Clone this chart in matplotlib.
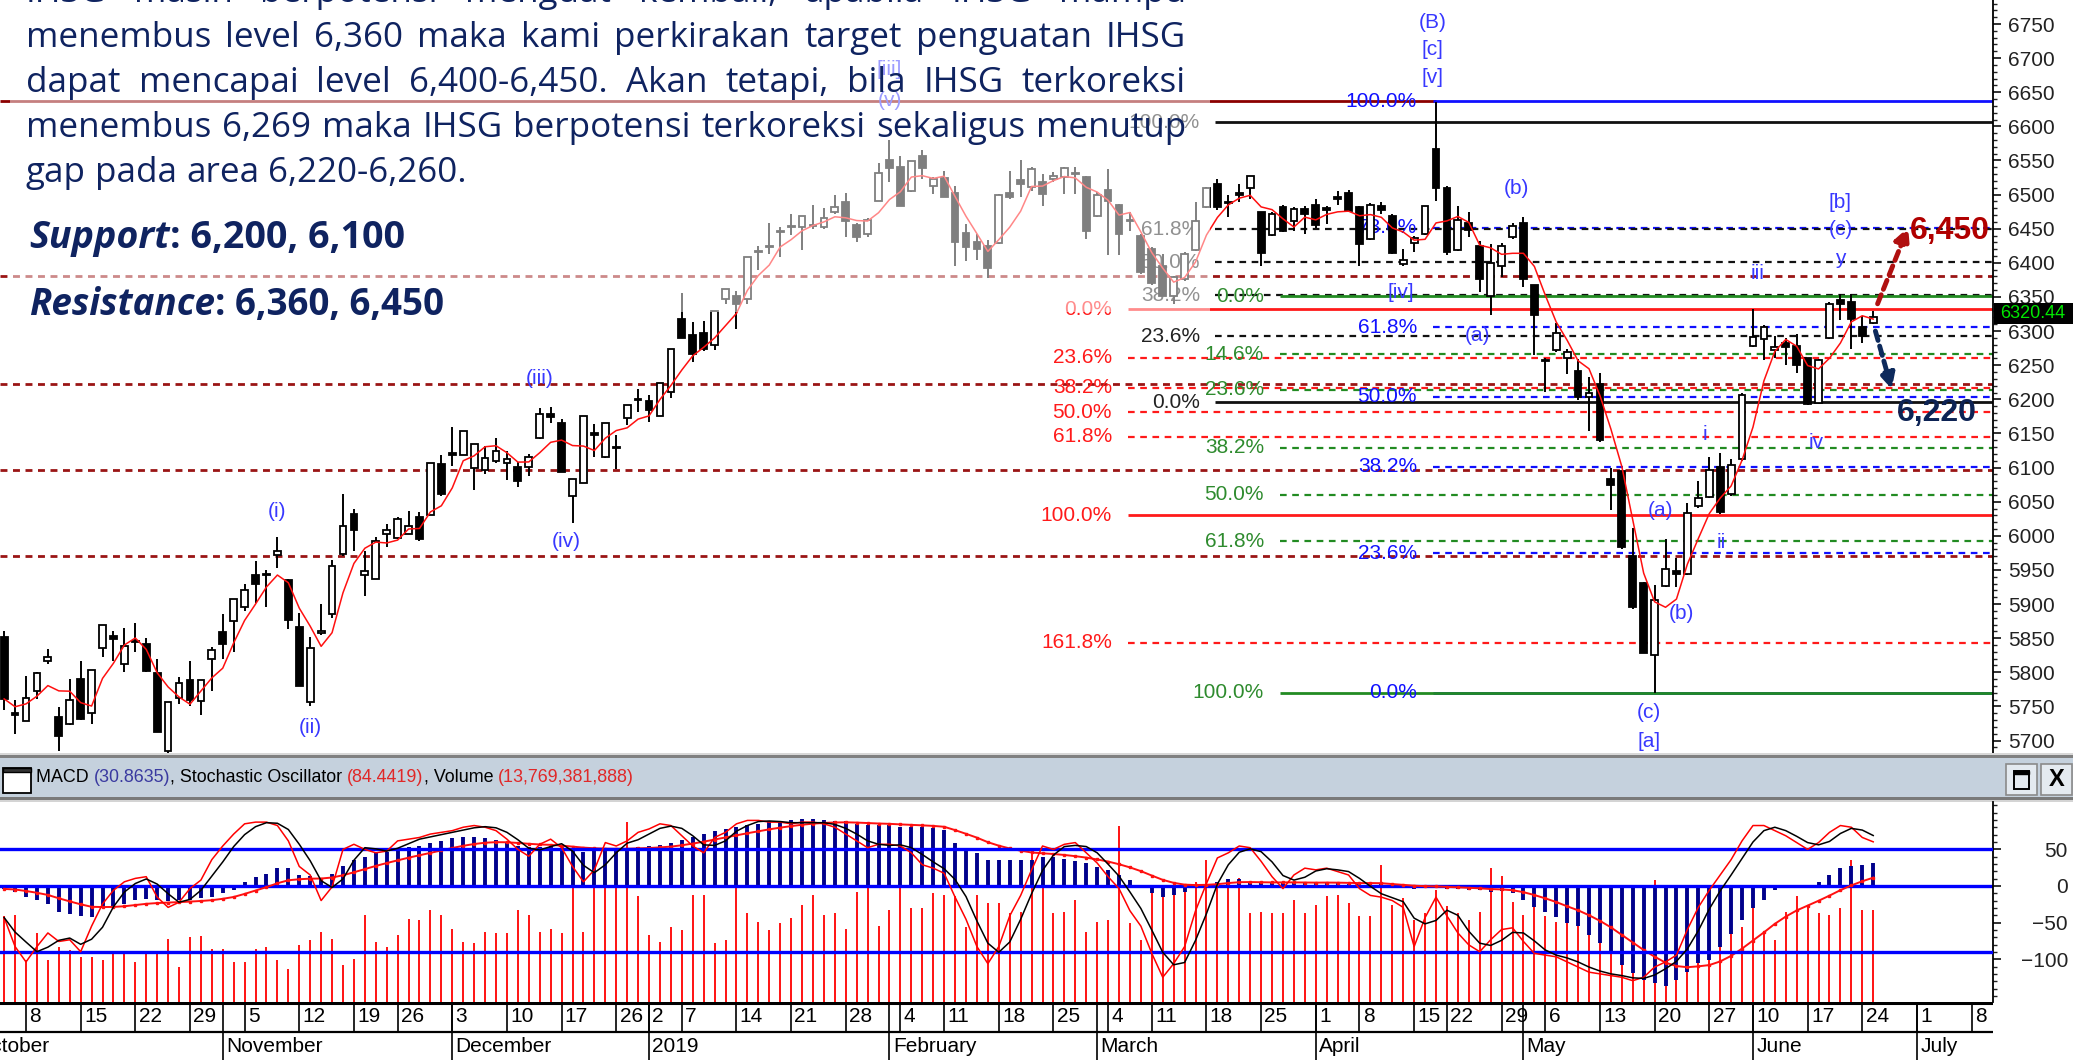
import numpy as np
import pandas as pd
import matplotlib
matplotlib.use('Agg')
import matplotlib.pyplot as plt
from matplotlib.patches import Rectangle
from matplotlib.font_manager import FontProperties, findfont

W, H = 2073, 1060

# ---------------- data ----------------
# daily IHSG candles, trading days 3 Oct 2018 .. 25 Jun 2019
opens = [5851, 5740, 5729, 5773, 5816, 5735, 5724, 5790, 5740, 5836,
         5853, 5812, 5846, 5842, 5799, 5684, 5763, 5789, 5758, 5820,
         5859, 5875, 5896, 5943, 5944, 5972, 5935, 5867, 5756, 5858,
         5885, 5974, 6032, 5943, 5937, 6002, 5997, 6003, 6028, 6031,
         6105, 6121, 6118, 6100, 6097, 6110, 6106, 6101, 6101, 6144,
         6179, 6165, 6058, 6077, 6150, 6116, 6130, 6173, 6200, 6198,
         6176, 6211, 6318, 6294, 6297, 6279, 6347, 6352, 6347, 6418,
         6425, 6447, 6452, 6453, 6456, 6453, 6474, 6489, 6455, 6443,
         6491, 6551, 6541, 6505, 6557, 6513, 6525, 6502, 6444, 6430,
         6425, 6429, 6502, 6522, 6511, 6518, 6523, 6526, 6532, 6526,
         6469, 6507, 6485, 6463, 6439, 6421, 6396, 6352, 6377, 6419,
         6482, 6516, 6488, 6502, 6510, 6474, 6441, 6482, 6461, 6479,
         6485, 6480, 6496, 6502, 6482, 6435, 6483, 6469, 6398, 6429,
         6442, 6567, 6509, 6419, 6459, 6425, 6351, 6396, 6438, 6458,
         6367, 6258, 6272, 6261, 6241, 6203, 6222, 6083, 6095, 5970,
         5931, 5825, 5927, 5948, 5944, 6043, 6057, 6101, 6061, 6112,
         6278, 6288, 6272, 6282, 6278, 6261, 6194, 6290, 6345, 6343,
         6306, 6312]
highs = [5861, 5760, 5795, 5800, 5834, 5749, 5790, 5817, 5803, 5869,
         5861, 5865, 5872, 5850, 5820, 5756, 5793, 5817, 5789, 5837,
         5886, 5908, 5930, 5963, 5950, 5998, 5936, 5887, 5852, 5900,
         5964, 6061, 6039, 5978, 5998, 6018, 6028, 6037, 6035, 6106,
         6119, 6160, 6154, 6135, 6131, 6143, 6125, 6108, 6120, 6188,
         6189, 6171, 6083, 6176, 6164, 6165, 6147, 6192, 6215, 6206,
         6224, 6274, 6356, 6313, 6315, 6329, 6362, 6359, 6409, 6425,
         6458, 6453, 6472, 6468, 6485, 6481, 6499, 6502, 6458, 6465,
         6546, 6580, 6557, 6549, 6565, 6526, 6534, 6512, 6457, 6442,
         6433, 6501, 6535, 6551, 6540, 6530, 6533, 6541, 6540, 6527,
         6504, 6538, 6486, 6474, 6442, 6423, 6413, 6381, 6416, 6489,
         6511, 6523, 6499, 6516, 6528, 6474, 6474, 6485, 6482, 6484,
         6494, 6484, 6505, 6507, 6484, 6487, 6489, 6471, 6420, 6440,
         6484, 6635, 6513, 6483, 6474, 6432, 6427, 6429, 6458, 6467,
         6367, 6261, 6312, 6274, 6259, 6232, 6238, 6099, 6095, 6011,
         5933, 5928, 5996, 5967, 6048, 6080, 6115, 6122, 6112, 6209,
         6332, 6309, 6293, 6290, 6296, 6261, 6259, 6343, 6354, 6354,
         6322, 6329]
lows = [5744, 5710, 5728, 5761, 5812, 5685, 5723, 5730, 5724, 5822,
        5817, 5800, 5829, 5800, 5712, 5678, 5754, 5750, 5737, 5773,
        5820, 5829, 5890, 5901, 5895, 5953, 5863, 5780, 5750, 5855,
        5880, 5971, 5978, 5912, 5937, 5984, 5995, 6003, 5993, 6031,
        6059, 6103, 6118, 6067, 6091, 6107, 6082, 6071, 6087, 6142,
        6165, 6093, 6019, 6077, 6115, 6114, 6098, 6162, 6181, 6167,
        6175, 6202, 6290, 6254, 6271, 6273, 6339, 6303, 6339, 6389,
        6413, 6409, 6441, 6419, 6450, 6450, 6472, 6438, 6430, 6438,
        6491, 6518, 6483, 6504, 6523, 6501, 6496, 6395, 6402, 6404,
        6378, 6428, 6494, 6497, 6506, 6484, 6518, 6501, 6501, 6435,
        6467, 6411, 6411, 6447, 6384, 6367, 6351, 6340, 6374, 6418,
        6481, 6477, 6467, 6489, 6494, 6395, 6440, 6445, 6446, 6443,
        6451, 6457, 6485, 6474, 6395, 6433, 6472, 6413, 6395, 6416,
        6441, 6490, 6412, 6418, 6438, 6358, 6323, 6379, 6435, 6364,
        6265, 6211, 6270, 6237, 6199, 6154, 6138, 6038, 5981, 5893,
        5828, 5770, 5925, 5925, 5942, 6041, 6056, 6032, 6059, 6110,
        6277, 6257, 6261, 6251, 6238, 6192, 6193, 6289, 6316, 6274,
        6283, 6310]
closes = [5761, 5738, 5762, 5799, 5823, 5707, 5760, 5732, 5803, 5869,
          5849, 5839, 5844, 5802, 5712, 5756, 5785, 5760, 5789, 5833,
          5842, 5908, 5921, 5929, 5942, 5978, 5876, 5780, 5836, 5860,
          5956, 6014, 6008, 5949, 5992, 6009, 6025, 6014, 5995, 6106,
          6061, 6119, 6154, 6135, 6114, 6125, 6113, 6080, 6115, 6179,
          6174, 6093, 6083, 6176, 6148, 6165, 6128, 6192, 6199, 6184,
          6224, 6274, 6290, 6267, 6274, 6329, 6362, 6339, 6409, 6416,
          6423, 6445, 6452, 6468, 6454, 6466, 6482, 6462, 6438, 6463,
          6531, 6539, 6484, 6549, 6539, 6523, 6497, 6430, 6423, 6421,
          6393, 6499, 6496, 6515, 6538, 6501, 6528, 6539, 6530, 6446,
          6500, 6491, 6443, 6461, 6386, 6370, 6352, 6379, 6413, 6461,
          6510, 6482, 6487, 6500, 6527, 6414, 6471, 6446, 6479, 6472,
          6455, 6478, 6494, 6476, 6428, 6485, 6478, 6414, 6404, 6437,
          6483, 6510, 6416, 6463, 6448, 6377, 6400, 6425, 6454, 6377,
          6323, 6256, 6297, 6270, 6203, 6209, 6140, 6074, 5983, 5896,
          5828, 5906, 5951, 5944, 6033, 6056, 6097, 6035, 6104, 6207,
          6291, 6306, 6277, 6277, 6251, 6193, 6257, 6340, 6340, 6317,
          6293, 6320.44]

macd = [-4, -8, -15, -19, -24, -35, -38, -41, -42, -30,
        -28, -24, -19, -18, -19, -20, -19, -19, -17, -15,
        -10, -5, 6, 12, 17, 25, 24, 15, 13, 11,
        17, 27, 35, 40, 45, 47, 50, 53, 55, 58,
        62, 65, 67, 67, 66, 63, 59, 55, 53, 53,
        54, 51, 48, 47, 48, 49, 50, 51, 53, 54,
        56, 58, 63, 67, 71, 75, 78, 81, 83, 85,
        88, 89, 90, 91, 91, 90, 89, 88, 85, 83,
        83, 83, 81, 81, 80, 79, 76, 58, 51, 45,
        35, 36, 36, 36, 36, 40, 40, 37, 34, 31,
        26, 22, 15, 8, 0, -10, -15, -12, -8, -1,
        3, 6, 10, 10, 6, 4, 4, 5, 5, 4,
        4, 5, 4, 3, 3, 4, 3, -2, -3, -4,
        -3, -2, -4, -4, -5, -6, -8, -7, -10, -19,
        -28, -35, -42, -51, -55, -67, -78, -92, -108, -119,
        -128, -133, -137, -128, -117, -105, -101, -83, -65, -46,
        -30, -19, -5, -2, 0, 0, 6, 15, 24, 27,
        29, 30.86]
stoch_k = [40, 23, 14, 23, 31, 26, 27, 20, 35, 48,
           56, 61, 63, 64, 52, 46, 49, 57, 62, 74,
           82, 89, 95, 96, 96, 94, 85, 70, 65, 50,
           58, 80, 83, 80, 78, 79, 85, 86, 87, 89,
           90, 91, 93, 94, 93, 91, 86, 80, 76, 83,
           86, 81, 70, 61, 68, 84, 82, 85, 90, 92,
           95, 94, 88, 82, 78, 87, 90, 95, 97, 97,
           96, 96, 95, 96, 96, 95, 93, 89, 85, 81,
           83, 83, 82, 78, 71, 69, 66, 52, 39, 23,
           13, 23, 41, 53, 68, 82, 80, 83, 84, 78,
           72, 64, 57, 44, 35, 19, 5, 13, 23, 44,
           60, 75, 78, 82, 81, 73, 64, 57, 65, 69,
           68, 69, 67, 65, 57, 53, 52, 50, 46, 23,
           40, 52, 41, 31, 24, 20, 27, 33, 34, 26,
           19, 18, 17, 14, 11, 8, 7, 6, 5, 3,
           5, 11, 14, 18, 33, 46, 56, 65, 74, 85,
           94, 94, 91, 88, 84, 80, 84, 90, 94, 93,
           87, 84.44]
volume = [12.8, 13.0, 6.3, 10.3, 6.3, 8.3, 7.8, 6.8, 6.8, 6.3,
          7.3, 7.5, 6.0, 7.3, 7.3, 9.5, 5.2, 9.8, 9.9, 7.9,
          8.0, 6.0, 6.0, 8.0, 8.3, 6.3, 4.9, 8.5, 9.3, 10.5,
          9.4, 5.5, 6.5, 13.0, 9.0, 8.2, 10.0, 12.4, 12.3, 13.8,
          13.0, 11.0, 9.0, 8.8, 10.5, 10.4, 10.3, 13.8, 13.0, 10.5,
          11.0, 10.3, 17.3, 10.5, 18.3, 17.8, 17.3, 27.0, 15.8, 10.0,
          9.0, 11.3, 10.8, 16.0, 16.0, 8.8, 9.3, 18.8, 13.3, 12.0,
          10.8, 11.8, 12.5, 14.5, 16.0, 13.0, 13.3, 11.0, 16.5, 27.0,
          11.4, 13.8, 17.3, 14.0, 14.0, 16.3, 16.0, 15.9, 11.3, 16.0,
          14.8, 14.8, 13.3, 13.5, 22.3, 18.8, 13.3, 13.5, 15.3, 10.5,
          12.0, 12.3, 26.3, 11.8, 9.3, 16.5, 17.3, 16.5, 17.3, 18.0,
          21.3, 17.3, 18.0, 18.5, 13.3, 13.5, 13.3, 13.3, 15.3, 13.3,
          14.5, 15.8, 16.0, 14.8, 12.8, 12.8, 20.5, 14.5, 15.5, 12.3,
          13.3, 16.8, 14.3, 13.3, 12.3, 13.5, 20.0, 18.8, 15.0, 13.0,
          14.3, 12.8, 12.0, 15.8, 14.3, 13.3, 14.3, 14.0, 12.3, 16.3,
          16.0, 18.3, 14.8, 14.3, 15.8, 15.3, 15.5, 12.3, 11.0, 11.3,
          14.0, 10.3, 9.3, 13.5, 15.8, 14.0, 13.3, 13.0, 14.0, 21.3,
          13.8, 13.77]

# fibonacci tools: (price at 0%, price at 100%, levels)
fib_black = (6196, 6606, [0, 23.6, 38.2, 50, 61.8, 100])
fib_red = (6332, 6030, [0, 23.6, 38.2, 50, 61.8, 100, 161.8])
fib_green = (6351, 5770, [0, 14.6, 23.6, 38.2, 50, 61.8, 100])
fib_blue = (5770, 6637, [0, 23.6, 38.2, 50, 61.8, 78.6, 100])
sr_lines = [6380, 6223, 6097, 5970]      # dark red dashed support/resistance
top_line = 6637

waves = [('(i)', 28, 6035), ('(ii)', 31, 5719), ('(iii)', 52, 6231), ('(iv)', 54.4, 5991),
         ('[iii]', 84, 6684), ('(v)', 84, 6638), ('(B)', 133.7, 6752), ('[c]', 133.7, 6712),
         ('[v]', 133.7, 6671), ('[iv]', 130.8, 6357), ('(a)', 137.8, 6294), ('(b)', 141.4, 6509),
         ('iii', 163.4, 6384), ('[b]', 171, 6489), ('(c)', 171, 6449), ('y', 171, 6407),
         ('i', 158.6, 6149), ('iv', 168.8, 6136), ('(a)', 154.5, 6037), ('ii', 160.1, 5990),
         ('(b)', 156.5, 5886), ('(c)', 153.5, 5741), ('[a]', 153.5, 5699)]

para = ["IHSG masih berpotensi menguat kembali, apabila IHSG mampu",
        "menembus level 6,360 maka kami perkirakan target penguatan IHSG",
        "dapat mencapai level 6,400-6,450. Akan tetapi, bila IHSG terkoreksi",
        "menembus 6,269 maka IHSG berpotensi terkoreksi sekaligus menutup",
        "gap pada area 6,220-6,260."]

holidays = pd.to_datetime(['2018-11-20', '2018-12-24', '2018-12-25', '2018-12-31', '2019-01-01',
                           '2019-02-05', '2019-03-07', '2019-04-03', '2019-04-17', '2019-04-19',
                           '2019-05-01', '2019-05-30', '2019-06-03', '2019-06-04', '2019-06-05',
                           '2019-06-06', '2019-06-07'])
month_names = {10: 'October', 11: 'November', 12: 'December', 1: '2019', 2: 'February',
               3: 'March', 4: 'April', 5: 'May', 6: 'June', 7: 'July'}


def has_font(name):
    try:
        findfont(FontProperties(family=name), fallback_to_default=False)
        return True
    except ValueError:
        return False


NARROW = 'Liberation Sans Narrow' if has_font('Liberation Sans Narrow') else 'Liberation Sans'
plt.rcParams['font.family'] = [NARROW, 'DejaVu Sans']

idx = np.arange(3, 3 + len(closes))
o, hi, lo, c = (np.array(a, float) for a in (opens, highs, lows, closes))

days = pd.bdate_range('2018-10-01', '2019-07-12')
days = days[~days.isin(holidays)]
cal = pd.DataFrame({'d': days, 'i': np.arange(len(days))})
weeks = cal.groupby(cal.d.dt.to_period('W')).first()
months = cal.groupby(cal.d.dt.to_period('M')).first()

X0, X1 = 2.62, 184.96
px2i = lambda px: (px + 28.65) / 10.93

fig = plt.figure(figsize=(W / 100, H / 100), dpi=100)
fig.patch.set_facecolor('white')


def rect_px(x0, y0, x1, y1, **kw):
    r = Rectangle((x0 / W, 1 - y1 / H), (x1 - x0) / W, (y1 - y0) / H,
                  transform=fig.transFigure, **kw)
    fig.add_artist(r)
    return r


# ---------------- price panel ----------------
axp = fig.add_axes([0, 1 - 753 / H, 1993 / W, 753 / H])
axp.set_xlim(X0, X1)
axp.set_ylim(5681.7, 6785.2)
for s in ['left', 'top', 'bottom']:
    axp.spines[s].set_visible(False)
axp.spines['right'].set_linewidth(1.3)
axp.set_xticks([])
axp.yaxis.tick_right()
axp.set_yticks(np.arange(5700, 6751, 50))
axp.set_yticks(np.arange(5690, 6781, 10), minor=True)
axp.tick_params(axis='y', which='major', length=6, width=1.3, labelsize=15, pad=5, colors='#222222')
axp.tick_params(axis='y', which='minor', length=3, width=1.0, colors='#222222')

dash = (0, (3, 2.5))
axp.hlines(top_line, X0, 134, color='#8b0000', lw=2, zorder=1)
for lv in sr_lines:
    axp.hlines(lv, X0, X1, color='#9a1515', lw=2, linestyles=[(0, (2.5, 2))], zorder=1)


def fib(tool, color, lab_px, start_px, lab_color=None, lw=1.6):
    p0, p100, levels = tool
    for lv in levels:
        y = p0 + (p100 - p0) * lv / 100
        solid = lv in (0, 100)
        axp.hlines(y, px2i(start_px), X1, color=color, lw=2.0 if solid else lw,
                   linestyles='solid' if solid else [dash], zorder=1.5)
        axp.text(px2i(lab_px), y, f'{lv:.1f}%', ha='right', va='center', fontsize=15,
                 color=lab_color or color, zorder=2)


fib(fib_blue, '#1010ff', 1417, 1433)
fib(fib_black, '#111111', 1200, 1215, lab_color='#222222')
fib(fib_red, '#ff1a1a', 1112, 1128)
fib(fib_green, '#228b22', 1264, 1280, lab_color='#2e8b2e')

# candles
up = c >= o
wide = 0.62
axp.vlines(idx, lo, hi, color='black', lw=1.4, zorder=3)
bh = np.maximum(np.abs(c - o), 1.5)
bl = np.minimum(o, c)
axp.bar(idx[up], bh[up], bottom=bl[up], width=wide, color='white', edgecolor='black', lw=1.3, zorder=4)
axp.bar(idx[~up], bh[~up], bottom=bl[~up], width=wide, color='black', edgecolor='black', lw=1.3, zorder=4)
ma = pd.Series(c).rolling(4, min_periods=1).mean()
axp.plot(idx, ma, color='#ff1010', lw=1.1, zorder=5)

for t, xi, yv in waves:
    axp.text(xi, yv, t, ha='center', va='center', fontsize=15, color='#3838ff', zorder=6)

axp.text(px2i(1910), 6447, '6,450', ha='left', va='center', fontsize=23, fontweight='bold',
         color='#b00000', family='Liberation Sans', zorder=7)
axp.text(px2i(1897), 6168, '6,220', ha='left', va='baseline', fontsize=23, fontweight='bold',
         color='#0d2354', family='Liberation Sans', zorder=7)
axp.annotate('', xy=(177.2, 6452), xytext=(174.4, 6340),
             arrowprops=dict(arrowstyle='-|>', linestyle=(0, (2, 1.2)), lw=3.5, color='#b01010',
                             mutation_scale=22, shrinkA=0, shrinkB=0), zorder=7)
axp.annotate('', xy=(175.7, 6215), xytext=(174.2, 6300),
             arrowprops=dict(arrowstyle='-|>', linestyle=(0, (2, 1.2)), lw=3.5, color='#0d2a5c',
                             mutation_scale=22, shrinkA=0, shrinkB=0), zorder=7)

# last price tag
rect_px(1994, 303, 2073, 324, facecolor='black', zorder=8)
fig.text(2033 / W, 1 - 313.5 / H, '6320.44', ha='center', va='center', fontsize=13,
         color='#00e600', zorder=9)

# ---------------- indicator panel ----------------
rect_i = [0, 58 / H, 1993 / W, 200 / H]
axv = fig.add_axes(rect_i, zorder=1)
axi = fig.add_axes(rect_i, zorder=2)
axs = fig.add_axes(rect_i, zorder=3)
for a in (axv, axi, axs):
    a.set_xlim(X0, X1)
    a.set_xticks([])
    for s in ['left', 'top', 'bottom', 'right']:
        a.spines[s].set_visible(False)
axi.patch.set_visible(False)
axs.patch.set_visible(False)
axv.set_ylim(0, 29.94)
axv.set_yticks([])
axs.set_ylim(-9.5, 107.8)
axs.set_yticks([])
axi.set_ylim(-158.3, 114.6)
axi.spines['right'].set_visible(True)
axi.spines['right'].set_linewidth(1.3)
axi.yaxis.tick_right()
axi.set_yticks([50, 0, -50, -100])
axi.set_yticks(np.arange(-150, 111, 10), minor=True)
axi.tick_params(axis='y', which='major', length=6, width=1.3, labelsize=15, pad=48, colors='#222222')
axi.tick_params(axis='y', which='minor', length=3, width=1.0, colors='#222222')
for lab in axi.get_yticklabels():
    lab.set_ha('right')

axv.vlines(idx, 0, volume, color='#ff0000', lw=1.3)
axi.vlines(idx, 0, macd, color='#00008b', lw=2.8)
axi.axhline(0, color='#0000ff', lw=2.4)
signal = pd.Series(macd).ewm(span=9, adjust=False).mean()
axi.plot(idx, signal, color='#ff1010', lw=1.4, marker='s', ms=1.6)
axs.axhline(80, color='#0000ff', lw=2.4)
axs.axhline(20, color='#0000ff', lw=2.4)
stoch_d = pd.Series(stoch_k).rolling(3, min_periods=1).mean()
axs.plot(idx, stoch_k, color='#ff0000', lw=1.1)
axs.plot(idx, stoch_d, color='black', lw=1.1)

# ---------------- date strip ----------------
axd = fig.add_axes([0, 0, 1993 / W, 58 / H])
axd.set_xlim(X0, X1)
axd.set_ylim(0, 58)
axd.axis('off')
axd.axhline(57, color='black', lw=2.2)
axd.axhline(28, color='black', lw=1.6)
for _, r in weeks.iterrows():
    axd.vlines(r.i, 28, 58, color='black', lw=1.2)
    axd.text(r.i + 0.3, 43, str(r.d.day), ha='left', va='center', fontsize=15)
for _, r in months.iterrows():
    axd.vlines(r.i, 0, 58, color='black', lw=1.2)
    axd.text(r.i + 0.3, 13, month_names[r.d.month], ha='left', va='center', fontsize=15)

# ---------------- indicator header bar ----------------
rect_px(0, 753, W, 755, facecolor='#d8d8d8', lw=0, zorder=1)
rect_px(0, 755, W, 757.5, facecolor='#808080', lw=0, zorder=1)
rect_px(0, 757.5, W, 797, facecolor='#c5d1dd', lw=0, zorder=1)
rect_px(0, 797, W, 799.5, facecolor='#7a7a7a', lw=0, zorder=1)
rect_px(0, 799.5, W, 802, facecolor='#d4d4d4', lw=0, zorder=1)
rect_px(3, 768, 31, 793, facecolor='white', edgecolor='black', lw=1.3, zorder=2)
rect_px(3, 768, 31, 772, facecolor='#333333', edgecolor='black', lw=1.0, zorder=2)
for bx in (2006, 2041):
    rect_px(bx, 764, bx + 31, 795, facecolor='#e4eaf0', edgecolor='#8a8a8a', lw=1.2, zorder=2)
rect_px(2014, 771, 2029, 789, facecolor='none', edgecolor='black', lw=1.4, zorder=3)
rect_px(2014, 771, 2029, 774, facecolor='black', edgecolor='black', lw=1.0, zorder=3)
fig.text(2056.5 / W, 1 - 780 / H, 'X', ha='center', va='center', fontsize=17, fontweight='bold', zorder=3)

renderer = fig.canvas.get_renderer()


def width_px(s, fp):
    return renderer.get_text_width_height_descent(s, fp, ismath=False)[0]


hdr = [('MACD ', 'black'), ('(30.8635)', '#3a3aa0'), (', Stochastic Oscillator ', 'black'),
       ('(84.4419)', '#e02828'), (', Volume ', 'black'), ('(13,769,381,888)', '#e02828')]
fp_h = FontProperties(family=NARROW, size=13.5)
hw = sum(width_px(s, fp_h) for s, _ in hdr)
fp_h = FontProperties(family=NARROW, size=13.5 * 596 / hw)
hx = 36
for s, col in hdr:
    fig.text(hx / W, 1 - 777 / H, s, ha='left', va='center', fontproperties=fp_h, color=col, zorder=3)
    hx += width_px(s, fp_h)

# ---------------- commentary box ----------------
rect_px(10, 0, 1210, 312, facecolor='white', alpha=0.5, lw=0, zorder=5)
navy = '#0f2360'
fp = FontProperties(family='Open Sans', size=22)
fs = 22 * 453 / width_px(para[-1], fp)          # last line is not justified: fit its width
fp = FontProperties(family='Open Sans', size=fs)
target = 1186 - 26
nat = max(width_px(l, fp) for l in para[:-1])
if nat > target * 0.99:
    fs = fs * target * 0.99 / nat
    fp = FontProperties(family='Open Sans', size=fs)
baselines = [2, 47, 92, 137, 182]
for k, (line, yb) in enumerate(zip(para, baselines)):
    words = line.split(' ')
    ws = [width_px(w_, fp) for w_ in words]
    if k < len(para) - 1:
        gap = (target - sum(ws)) / (len(words) - 1)
    else:
        gap = width_px('a b', fp) - width_px('ab', fp)
    x = 26.0
    for w_, wd in zip(words, ws):
        fig.text(x / W, 1 - yb / H, w_, ha='left', va='baseline', fontproperties=fp, color=navy, zorder=6)
        x += wd + gap

for label, rest, yb, tw in [('Support', ': 6,200, 6,100', 248, 376), ('Resistance', ': 6,360, 6,450', 315, 416)]:
    f1 = FontProperties(family='Open Sans', size=25, weight='bold', style='italic')
    f2 = FontProperties(family='Open Sans', size=25, weight='bold')
    sc = tw / (width_px(label, f1) + width_px(rest, f2))
    f1 = FontProperties(family='Open Sans', size=25 * sc, weight='bold', style='italic')
    f2 = FontProperties(family='Open Sans', size=25 * sc, weight='bold')
    fig.text(29 / W, 1 - yb / H, label, ha='left', va='baseline', fontproperties=f1, color=navy, zorder=6)
    fig.text((29 + width_px(label, f1)) / W, 1 - yb / H, rest, ha='left', va='baseline',
             fontproperties=f2, color=navy, zorder=6)

fig.savefig('out.png', dpi=100, facecolor='white')
